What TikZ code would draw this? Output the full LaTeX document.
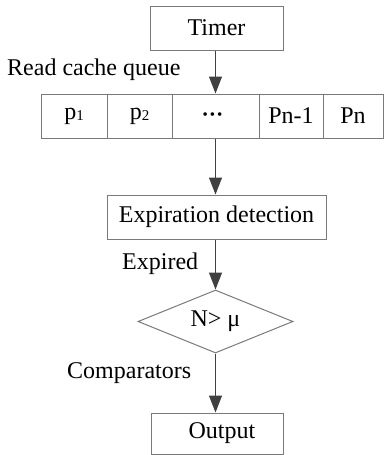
\documentclass[tikz,border=0pt]{standalone}
\usepackage{fontspec}
\setmainfont{Liberation Serif}
\usetikzlibrary{shapes.geometric,arrows.meta}
\definecolor{boxline}{HTML}{7A7A7A}
\definecolor{arrowcol}{HTML}{404040}
\newcommand{\sm}[1]{\raisebox{-1.5pt}{\fontsize{15}{15}\selectfont #1}}
\newcommand{\qdots}{\raisebox{-3pt}{\fontsize{15}{15}\selectfont\char"2022\kern2pt\char"2022\kern2pt\char"2022}}
\begin{document}
\begin{tikzpicture}[x=1pt,y=-1pt,
  every node/.style={font=\fontsize{24}{26}\selectfont, inner sep=0pt},
  stepbox/.style={draw=boxline, line width=1pt, minimum height=44pt},
  cell/.style={draw=boxline, line width=1pt, minimum height=44pt},
  decision/.style={diamond, draw=boxline, line width=1pt, aspect=2.46, minimum width=155pt, minimum height=63pt, inner sep=0pt},
  flow/.style={draw=arrowcol, line width=1.1pt, -{Triangle[length=17pt,width=13pt]}},
  lbl/.style={font=\fontsize{24}{26}\selectfont}]
\useasboundingbox (0,0) rectangle (384,455);

% timer
\node[stepbox, minimum width=133pt] (timer) at (216.5,28) {Timer};

% cache queue cells
\node[cell, minimum width=66pt] (c1) at (74,116) {p\sm{1}};
\node[cell, minimum width=65pt] (c2) at (139.5,116) {p\sm{2}};
\node[cell, minimum width=87pt] (c3) at (215.5,116) {\hspace*{-6pt}\qdots};
\node[cell, minimum width=64pt] (c4) at (291,116) {Pn-1};
\node[cell, minimum width=60pt] (c5) at (353,116) {Pn};

% processing chain
\node[stepbox, minimum width=219pt] (exp) at (216.5,217) {Expiration detection};
\node[decision] (cmp) at (215.5,321.5) {N> \char"03BC};
\node[stepbox, minimum width=132pt, minimum height=41pt, text width=132pt, align=center] (out) at (217,433.5) {\hspace*{10pt}Output};

% connectors
\draw[flow] (timer.south -| c3.north) -- (c3.north);
\draw[flow] (c3.south) -- (exp.north -| c3.south);
\draw[flow] (exp.south -| cmp.north) -- (cmp.north);
\draw[flow] (cmp.south) -- (out.north -| cmp.south);

% labels
\node[lbl, anchor=west] (l1) at (7,70) {Read cache queue};
\node[lbl, anchor=west] (l2) at (122,264) {Expired};
\node[lbl, anchor=west] (l3) at (67,373) {Comparators};
\end{tikzpicture}
\end{document}
